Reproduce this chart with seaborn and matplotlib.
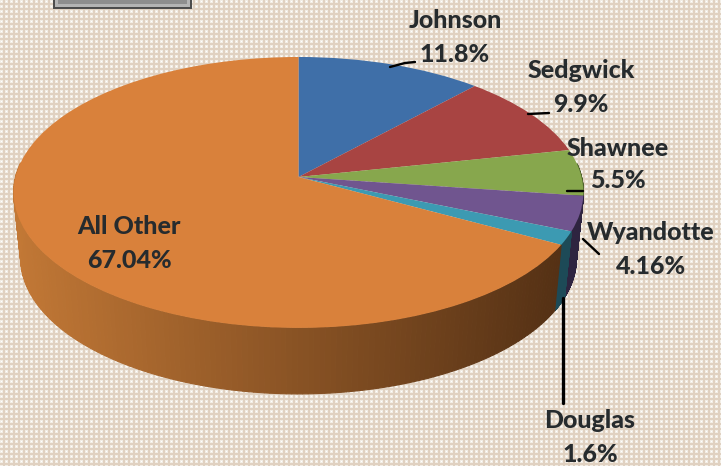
import numpy as np
import matplotlib
matplotlib.use("Agg")
import matplotlib.pyplot as plt
from matplotlib.patches import Rectangle
from matplotlib.transforms import Transform
import seaborn as sns

# Data
counties = ['Johnson', 'Sedgwick', 'Shawnee', 'Wyandotte', 'Douglas', 'All Other']
shares = [11.8, 9.9, 5.5, 4.16, 1.6, 67.04]
share_labels = ['11.8%', '9.9%', '5.5%', '4.16%', '1.6%', '67.04%']
top_colors = ['#3F6FA8', '#A84442', '#87A74D', '#70558F', '#3C9AB2', '#D9813B']
wall_colors = ['#24405F', '#60272A', '#4D602C', '#2E2440', '#1D4A57', '#D9813B']

sns.set_theme(style='white')
plt.rcParams['font.family'] = ['Lato', 'DejaVu Sans']

CX, CY, RX, RY, K, DEPTH, SHRINK = 298.5, 177, 283, 133.7, 0.114, 66, 0.975


class Tilt(Transform):
    # tilted disc: unit circle to picture pixels, near edge drawn bigger
    input_dims = 2
    output_dims = 2

    def transform_non_affine(self, xy):
        xy = np.asarray(xy, dtype=float)
        w = 1 + K * xy[:, 1]
        return np.column_stack([CX + RX * xy[:, 0] / w, CY - RY * xy[:, 1] / w])


fig = plt.figure(figsize=(7.21, 4.66), dpi=100)
ax = fig.add_axes([0, 0, 1, 1])

# Background weave
h, w = 466, 721
yy, xx = np.mgrid[0:h, 0:w]
bg = np.ones((h, w, 3)) * np.array([0.95, 0.93, 0.90])
bg[(xx % 5 >= 3) | (yy % 5 >= 3)] = [0.88, 0.82, 0.76]
bg[(xx % 5 == 1) & (yy % 5 == 1)] = [1.0, 1.0, 1.0]
ax.imshow(bg, extent=(0, w, h, 0), interpolation='nearest', zorder=0)

# Top face
wedges, _ = ax.pie(shares, colors=top_colors, startangle=90, counterclock=False,
                   wedgeprops={'linewidth': 0, 'edgecolor': 'none'})
tilt = Tilt()
for wedge in wedges:
    wedge.set_transform(tilt + ax.transData)
    wedge.set_zorder(3)

# Side wall, only the near part of the rim shows
edges = 90 - np.concatenate([[0], np.cumsum(shares)]) * 3.6
for i, county in enumerate(counties):
    steps = np.radians(np.linspace(edges[i], edges[i + 1], 240))
    for a0, a1 in zip(steps[:-1], steps[1:]):
        if np.sin(a0) > 0.1 and np.sin(a1) > 0.1:
            continue
        rim = tilt.transform_non_affine(np.array([[np.cos(a0), np.sin(a0)], [np.cos(a1), np.sin(a1)]]))
        low_x = CX + (rim[:, 0] - CX) * SHRINK
        if county == 'All Other':
            t = np.clip((rim[0, 0] - 14) / 550, 0, 1)
            col = np.array([0.76, 0.47, 0.21]) * (1 - t) + np.array([0.33, 0.19, 0.08]) * t
        else:
            col = wall_colors[i]
        ax.fill([rim[0, 0], rim[1, 0], low_x[1], low_x[0]],
                [rim[0, 1], rim[1, 1], rim[1, 1] + DEPTH, rim[0, 1] + DEPTH],
                color=col, lw=0.8, zorder=2)

ax.set_aspect('auto')
ax.set_xlim(0, w)
ax.set_ylim(h, 0)
ax.axis('off')

# Button stub at top left
ax.add_patch(Rectangle((54, -2), 137, 10, fc='#B4B4B4', ec='#4A4A4A', lw=1.4, zorder=4))
ax.add_patch(Rectangle((58, -2), 129, 6, fc='#8E8E8E', ec='none', zorder=5))

# Labels
label_pos = [(455, 21), (581, 71), (618, 148), (651, 233), (590, 421), (129, 227)]
for county, lab, (x, y) in zip(counties, share_labels, label_pos):
    ax.text(x, y, county, ha='center', va='center', fontsize=18, fontweight='black', color='#262B2E', zorder=6)
    ax.text(x, y + 33, lab, ha='center', va='center', fontsize=18, fontweight='black', color='#262B2E', zorder=6)

# Leader lines
for xs, ys in [([390, 405, 415], [67, 63, 62]), ([528, 549], [114, 113]), ([567, 583], [191, 191]),
               ([583, 599], [239, 254])]:
    ax.plot(xs, ys, color='black', lw=1.7, zorder=5)
ax.plot([563, 563], [298, 403], color='black', lw=2.4, zorder=5)

fig.savefig('out.png', dpi=100)
